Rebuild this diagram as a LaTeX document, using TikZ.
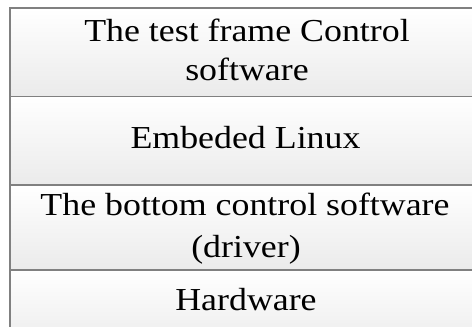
\documentclass[tikz,border=0pt]{standalone}
\usepackage{fontspec}
\setmainfont{Liberation Serif}
\begin{document}
\begin{tikzpicture}[x=1pt,y=-1pt,
  layer/.style={draw=black!50, line width=1.5pt, top color=white, bottom color=black!8, anchor=north west, minimum width=472pt, inner sep=0pt, outer sep=0pt},
  lbl/.style={anchor=base, inner sep=0pt, font=\fontsize{32}{38}\selectfont}]
\useasboundingbox (0,0) rectangle (472,327);
\clip (0,0) rectangle (472,327);
\fill[white] (0,0) rectangle (472,327);
\node[layer, minimum height=88.5pt] (b1) at (10,8) {};
\node[layer, minimum height=88.5pt] (b2) at (10,96.5) {};
\node[layer, minimum height=85pt] (b3) at (10,185) {};
\node[layer, minimum height=80pt] (b4) at (10,270) {};
\node[lbl] (t1a) at (247,41.7) {\scalebox{1.12}[1]{The test frame Control}};
\node[lbl] (t1b) at (247,80) {\scalebox{1.12}[1]{software}};
\node[lbl] (t2) at (245.5,148.3) {\scalebox{1.12}[1]{Embeded Linux}};
\node[lbl] (t3a) at (245,215.5) {\scalebox{1.12}[1]{The bottom control software}};
\node[lbl] (t3b) at (246,257.5) {\scalebox{1.12}[1]{(driver)}};
\node[lbl] (t4) at (246,310) {\scalebox{1.12}[1]{Hardware}};
\end{tikzpicture}
\end{document}
